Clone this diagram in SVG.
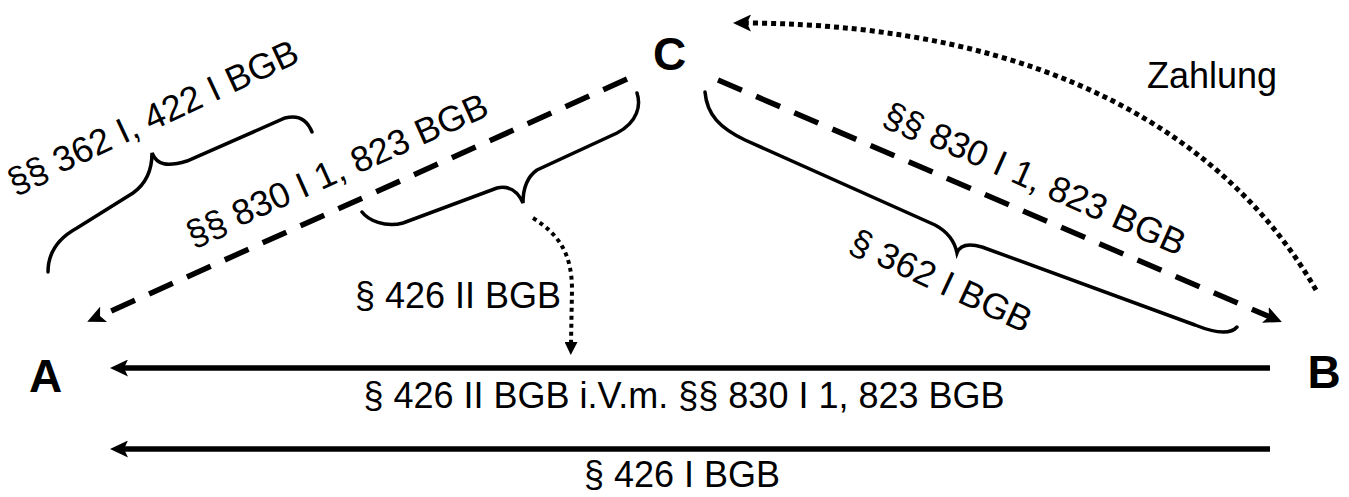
<svg xmlns="http://www.w3.org/2000/svg" width="1349" height="497" viewBox="0 0 1349 497">
<style>
  .node { font-family: "Liberation Sans", Arial, sans-serif; font-weight: bold; font-size: 46px; fill: #000; text-anchor: middle; }
  .lbl { font-family: "Liberation Sans", Arial, sans-serif; font-size: 36px; fill: #000; text-anchor: middle; }
  .solid { stroke: #000; stroke-width: 5.5; fill: none; }
  .dash { stroke: #000; stroke-width: 5.5; fill: none; stroke-dasharray: 26 15.5; }
  .dot { stroke: #000; stroke-width: 5; fill: none; stroke-dasharray: 5 4; }
  .dots { stroke: #000; stroke-width: 4; fill: none; stroke-dasharray: 4 4; }
  .brace { stroke: #000; stroke-width: 3.5; fill: none; stroke-linecap: round; }
</style>
<defs>
  <marker id="ah" markerUnits="userSpaceOnUse" markerWidth="18" markerHeight="17" refX="4" refY="8.5" orient="auto" viewBox="0 0 18 17">
    <path d="M0,0 L18,8.5 L0,17 L4,8.5 Z" fill="#000"/>
  </marker>
  <marker id="ahs" markerUnits="userSpaceOnUse" markerWidth="13" markerHeight="13" refX="1" refY="6.5" orient="auto" viewBox="0 0 13 13">
    <path d="M0,0 L13,6.5 L0,13 Z" fill="#000"/>
  </marker>
</defs>
<rect width="1349" height="497" fill="#fff"/>

<g id="connectors">
  <line class="solid" x1="1270" y1="368" x2="124" y2="368" marker-end="url(#ah)"/>
  <line class="solid" x1="1270" y1="449" x2="124" y2="449" marker-end="url(#ah)"/>
  <line class="dash" x1="627" y1="79" x2="100" y2="316" marker-end="url(#ah)"/>
  <line class="dash" x1="718" y1="80" x2="1269" y2="316.5" marker-end="url(#ah)"/>
  <path class="dot" d="M1316,290 C1230,140 1050,25 747,23" marker-end="url(#ah)"/>
  <path class="dots" d="M533,218 C560,235 572,255 572,290 L571,343" marker-end="url(#ahs)"/>
</g>

<g id="braces">
  <path class="brace" d="M48,272 C48,255 55,240 77,228 L133,193 C147,183 152,168 152,153 C157,165 167,167 187,161 L285,118 C300,114 308,122 312,132"/>
  <path class="brace" d="M637,93 C641,105 638,122 617,133 L537,170 C527,177 523,190 523,203 C518,192 510,185 497,188 L403,223 C385,228 368,220 362,212"/>
  <path class="brace" d="M705,92 C707,115 720,128 745,140 L935,225 C950,233 955,243 957,253 C960,245 968,243 982,247 L1195,325 C1215,333 1230,335 1237,327"/>
</g>

<g id="node-A"><text class="node" x="45.5" y="392">A</text></g>
<g id="node-B"><text class="node" x="1324" y="388">B</text></g>
<g id="node-C"><text class="node" x="669.5" y="70">C</text></g>

<g id="labels">
  <text class="lbl" x="158" y="128" transform="rotate(-25 158 128)">§§ 362 I, 422 I BGB</text>
  <text class="lbl" x="342" y="181" transform="rotate(-24 342 181)">§§ 830 I 1, 823 BGB</text>
  <text class="lbl" x="1030" y="190" transform="rotate(24 1030 190)">§§ 830 I 1, 823 BGB</text>
  <text class="lbl" x="936" y="292" transform="rotate(25 936 292)">§ 362 I BGB</text>
  <text class="lbl" x="1212" y="88">Zahlung</text>
  <text class="lbl" x="458" y="308">§ 426 II BGB</text>
  <text class="lbl" x="684" y="408">§ 426 II BGB i.V.m. §§ 830 I 1, 823 BGB</text>
  <text class="lbl" x="682" y="487">§ 426 I BGB</text>
</g>
</svg>
